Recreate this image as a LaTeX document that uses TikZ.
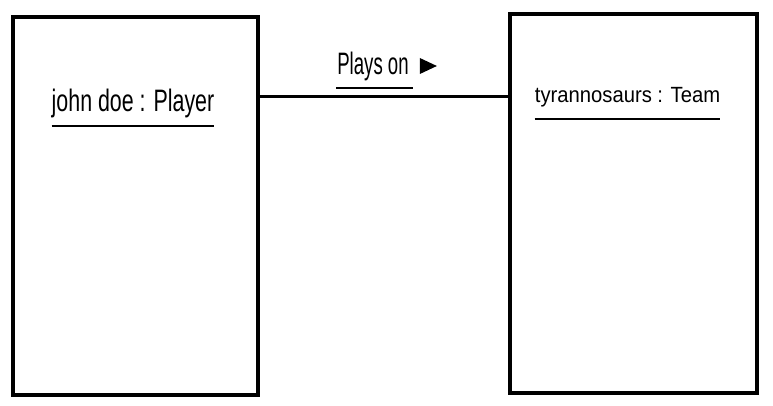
\documentclass[tikz,border=0pt]{standalone}
\usepackage{fontspec}
\newfontfamily\narrowA[FakeStretch=0.69]{Liberation Sans}
\newfontfamily\narrowB[FakeStretch=0.92]{Liberation Sans}
\newfontfamily\narrowC[FakeStretch=0.60]{Liberation Sans}
\begin{document}
\begin{tikzpicture}[x=1pt,y=-1pt,
  objbox/.style={draw, line width=3.5pt, inner sep=0pt},
  uline/.style={line width=2.5pt},
  link/.style={line width=3pt}]
\useasboundingbox (0,0) rectangle (773,406);
\fill[white] (0,0) rectangle (773,406);
% boxes
\node[objbox, minimum width=245pt, minimum height=378pt] (player) at (135.5,206) {};
\node[objbox, minimum width=247pt, minimum height=379pt] (team) at (633.5,203.5) {};
% object names
\node[anchor=base, inner sep=0pt, font=\narrowA\fontsize{31}{36}\selectfont] (ptext) at (133,112) {john doe : Player};
\node[anchor=base, inner sep=0pt, font=\narrowB\fontsize{22}{26}\selectfont] (ttext) at (627.5,103) {tyrannosaurs : Team};
\draw[uline] (ptext.base west |- 0,126) -- (ptext.base east |- 0,126);
\draw[uline] (ttext.base west |- 0,119) -- (ttext.base east |- 0,119);
% association
\draw[link] (player.east |- 0,97) -- (team.west |- 0,97);
\node[anchor=base, inner sep=0pt, font=\narrowC\fontsize{31}{36}\selectfont] (assoc) at (373,75) {Plays on};
\draw[uline] ([xshift=-1pt]assoc.base west |- 0,88) -- ([xshift=4pt]assoc.base east |- 0,88);
\fill ([xshift=11pt]assoc.base east |- 0,58) coordinate (tri) -- ++(17,8) -- ++(-17,8) -- cycle;
\end{tikzpicture}
\end{document}
